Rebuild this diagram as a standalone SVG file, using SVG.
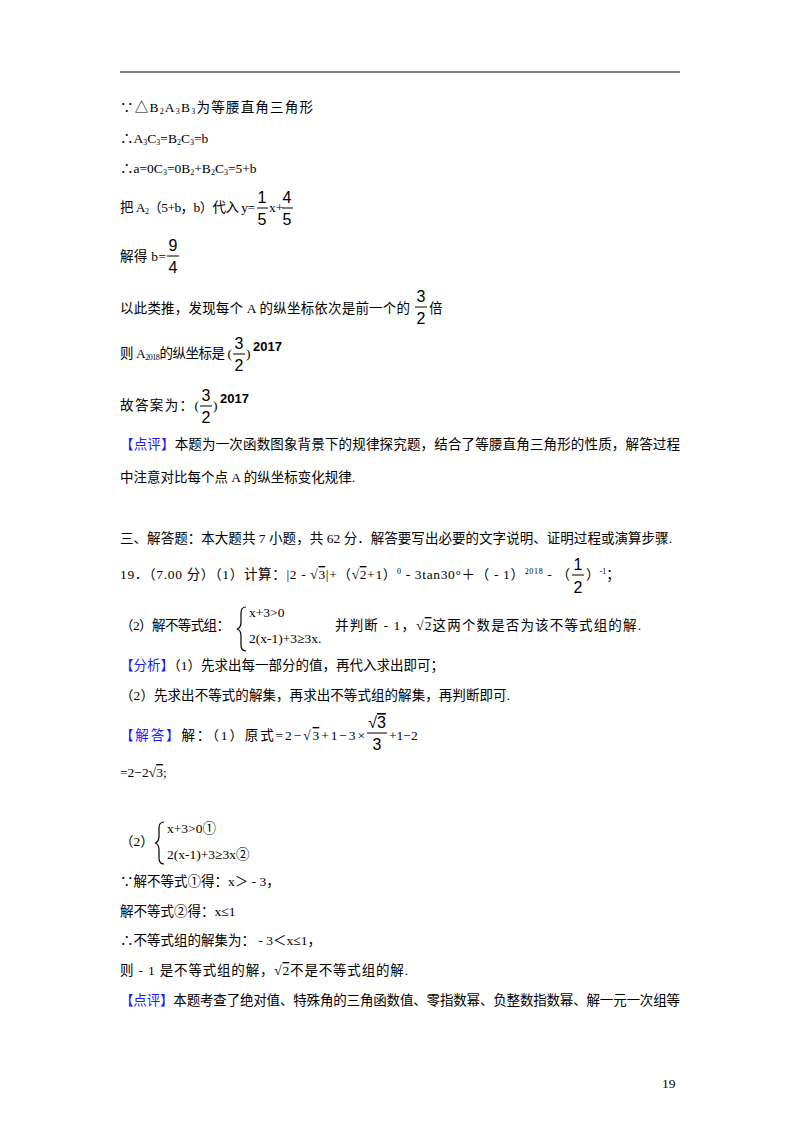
<svg xmlns="http://www.w3.org/2000/svg" width="800" height="1132" viewBox="0 0 800 1132">
<style>
text{font-family:"Liberation Serif","Noto Sans CJK SC",serif;font-size:13.5px;fill:#000}
.m{font-family:"Liberation Sans","Noto Sans CJK SC",sans-serif;font-size:16px}
.b{fill:#1a1aff}
.s{font-size:8px}
.o{text-decoration:overline}
.e{font-family:"Liberation Sans",sans-serif;font-weight:bold;font-size:13px}
line{stroke:#000;stroke-width:1}
.br{fill:none;stroke:#000;stroke-width:1.2}
</style>
<rect width="800" height="1132" fill="#fff"/>
<line x1="120" y1="72" x2="680" y2="72" stroke-width="1.5"/>
<g id="page-text">
<text x="120" y="112" textLength="193" lengthAdjust="spacing">∵△B<tspan class="s" dy="2">2</tspan><tspan dy="-2">A</tspan><tspan class="s" dy="2">3</tspan><tspan dy="-2">B</tspan><tspan class="s" dy="2">3</tspan><tspan dy="-2">为等腰直角三角形</tspan></text>
<text x="120" y="143">∴A<tspan class="s" dy="2">3</tspan><tspan dy="-2">C</tspan><tspan class="s" dy="2">3</tspan><tspan dy="-2">=B</tspan><tspan class="s" dy="2">2</tspan><tspan dy="-2">C</tspan><tspan class="s" dy="2">3</tspan><tspan dy="-2">=b</tspan></text>
<text x="120" y="173">∴a=0C<tspan class="s" dy="2">3</tspan><tspan dy="-2">=0B</tspan><tspan class="s" dy="2">2</tspan><tspan dy="-2">+B</tspan><tspan class="s" dy="2">2</tspan><tspan dy="-2">C</tspan><tspan class="s" dy="2">3</tspan><tspan dy="-2">=5+b</tspan></text>
<text x="120" y="212" textLength="135" lengthAdjust="spacing">把 A<tspan class="s" dy="2">2</tspan><tspan dy="-2">（5+b，b）代入 y=</tspan></text>
<text class="m" x="262" y="203" text-anchor="middle">1</text><line x1="257" y1="208" x2="268" y2="208"/><text class="m" x="262" y="225" text-anchor="middle">5</text>
<text x="269" y="212">x+</text>
<text class="m" x="287" y="203" text-anchor="middle">4</text><line x1="282" y1="208" x2="293" y2="208"/><text class="m" x="287" y="225" text-anchor="middle">5</text>
<text x="120" y="261" textLength="46" lengthAdjust="spacing">解得 b=</text>
<text class="m" x="173" y="251" text-anchor="middle">9</text><line x1="167" y1="256" x2="179" y2="256"/><text class="m" x="173" y="273" text-anchor="middle">4</text>
<text x="120" y="313" textLength="290" lengthAdjust="spacing">以此类推，发现每个 A 的纵坐标依次是前一个的</text>
<text class="m" x="421" y="302" text-anchor="middle">3</text><line x1="415" y1="307" x2="427" y2="307"/><text class="m" x="421" y="324" text-anchor="middle">2</text>
<text x="429" y="313">倍</text>
<text x="120" y="358" textLength="112" lengthAdjust="spacing">则 A<tspan class="s" dy="2">2018</tspan><tspan dy="-2">的纵坐标是 (</tspan></text>
<text class="m" x="239" y="349" text-anchor="middle">3</text><line x1="233" y1="354" x2="245" y2="354"/><text class="m" x="239" y="371" text-anchor="middle">2</text>
<text x="246" y="358">)</text><text class="e" x="253" y="351">2017</text>
<text x="120" y="410" textLength="79" lengthAdjust="spacing">故答案为：(</text>
<text class="m" x="206" y="401" text-anchor="middle">3</text><line x1="200" y1="406" x2="212" y2="406"/><text class="m" x="206" y="423" text-anchor="middle">2</text>
<text x="213" y="410">)</text><text class="e" x="220" y="403">2017</text>
<text x="120" y="449" textLength="560" lengthAdjust="spacing"><tspan class="b">【点评】</tspan>本题为一次函数图象背景下的规律探究题，结合了等腰直角三角形的性质，解答过程</text>
<text x="120" y="482">中注意对比每个点 A 的纵坐标变化规律.</text>
<text x="120" y="543" textLength="552" lengthAdjust="spacing">三、解答题：本大题共 7 小题，共 62 分．解答要写出必要的文字说明、证明过程或演算步骤.</text>
<text x="120" y="579" textLength="450" lengthAdjust="spacing">19．（7.00 分）（1）计算：|2 - √<tspan class="o">3</tspan>|+（√<tspan class="o">2</tspan>+1）<tspan class="s" dy="-5">0</tspan><tspan dy="5"> - 3tan30°＋（ - 1）</tspan><tspan class="s" dy="-5">2018</tspan><tspan dy="5"> - （</tspan></text>
<text class="m" x="578" y="570" text-anchor="middle">1</text><line x1="572" y1="575" x2="584" y2="575"/><text class="m" x="578" y="593" text-anchor="middle">2</text>
<text x="586" y="579">）<tspan class="s" dy="-5">-1</tspan><tspan dy="5">；</tspan></text>
<text x="120" y="630" textLength="110" lengthAdjust="spacing">（2）解不等式组：</text>
<path class="br" d="M246,607 q-5,0 -5,6 v9 q0,6 -4,7 q4,1 4,7 v9 q0,6 5,6"/>
<text x="249" y="617">x+3&gt;0</text>
<text x="249" y="643">2(x-1)+3≥3x.</text>
<text x="335" y="630" textLength="306" lengthAdjust="spacing">并判断 - 1，√<tspan class="o">2</tspan>这两个数是否为该不等式组的解.</text>
<text x="120" y="670" textLength="324" lengthAdjust="spacing"><tspan class="b">【分析】</tspan>（1）先求出每一部分的值，再代入求出即可；</text>
<text x="120" y="700" textLength="390" lengthAdjust="spacing">（2）先求出不等式的解集，再求出不等式组的解集，再判断即可.</text>
<text x="120" y="740" textLength="245" lengthAdjust="spacing"><tspan class="b">【解答】</tspan>解：（1）原式=2−√<tspan class="o">3</tspan>+1−3×</text>
<text class="m" x="377" y="728" text-anchor="middle" font-size="15">√<tspan class="o">3</tspan></text>
<line x1="367" y1="733" x2="387" y2="733"/><text class="m" x="377" y="750" text-anchor="middle" font-size="15">3</text>
<text x="389" y="740">+1−2</text>
<text x="120" y="777">=2−2√<tspan class="o">3</tspan>;</text>
<text x="120" y="846">（2）</text>
<path class="br" d="M164,822 q-5,0 -5,6 v8 q0,6 -4,7 q4,1 4,7 v8 q0,6 5,6"/>
<text x="167" y="833">x+3&gt;0①</text>
<text x="167" y="859">2(x-1)+3≥3x②</text>
<text x="120" y="886">∵解不等式①得：x＞ - 3，</text>
<text x="120" y="916">解不等式②得：x≤1</text>
<text x="120" y="945">∴不等式组的解集为： - 3＜x≤1，</text>
<text x="120" y="975" textLength="288" lengthAdjust="spacing">则 - 1 是不等式组的解，√<tspan class="o">2</tspan>不是不等式组的解.</text>
<text x="120" y="1005" textLength="560" lengthAdjust="spacing"><tspan class="b">【点评】</tspan>本题考查了绝对值、特殊角的三角函数值、零指数幂、负整数指数幂、解一元一次组等</text>
<text x="662" y="1088" font-size="12">19</text>
</g>
</svg>
